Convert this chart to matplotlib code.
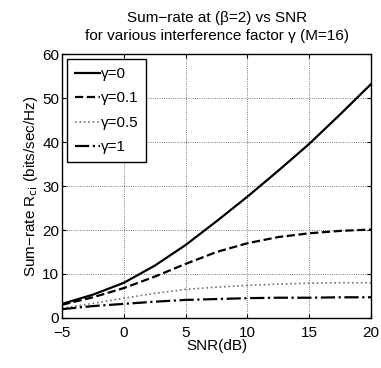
import matplotlib
matplotlib.use('Agg')
import matplotlib.pyplot as plt

plt.rcParams['font.family'] = ['Liberation Sans', 'DejaVu Sans']

# SNR in dB
snr = [-5, -2.5, 0, 2.5, 5, 7.5, 10, 12.5, 15, 17.5, 20]

# sum-rate for each interference factor
rate_g0 = [3.2, 5.3, 8.0, 11.9, 16.6, 22.0, 27.6, 33.5, 39.6, 46.3, 53.2]
rate_g01 = [3.0, 4.7, 6.8, 9.4, 12.3, 15.0, 17.0, 18.4, 19.25, 19.8, 20.1]
rate_g05 = [2.2, 3.3, 4.5, 5.6, 6.5, 7.0, 7.4, 7.7, 7.9, 8.0, 8.0]
rate_g1 = [2.0, 2.7, 3.2, 3.7, 4.1, 4.3, 4.5, 4.6, 4.6, 4.7, 4.7]

labels = ['γ=0', 'γ=0.1', 'γ=0.5', 'γ=1']

fig = plt.figure(figsize=(3.81, 3.68), dpi=100)
ax = fig.add_axes([0.163, 0.136, 0.811, 0.717])

ax.plot(snr, rate_g0, 'k-', lw=1.6, label=labels[0])
ax.plot(snr, rate_g01, 'k--', lw=1.6, label=labels[1])
ax.plot(snr, rate_g05, ':', lw=1.2, color='0.45', label=labels[2])
ax.plot(snr, rate_g1, 'k-.', lw=1.6, label=labels[3])

ax.set_xlim(-5, 20)
ax.set_ylim(0, 60)
ax.set_xticks([-5, 0, 5, 10, 15, 20])
ax.set_xticklabels(['−5', '0', '5', '10', '15', '20'])
ax.set_yticks([0, 10, 20, 30, 40, 50, 60])
ax.tick_params(direction='in', labelsize=11, length=3, top=True, right=True, pad=2)
ax.tick_params(axis='x', pad=6)
ax.grid(True, linestyle=':', color='k', lw=0.6, alpha=0.7)
for s in ax.spines.values():
    s.set_linewidth(1.0)

ax.set_xlabel('SNR(dB)', fontsize=11, labelpad=-1)
ax.set_ylabel('Sum−rate R$_{\\rm ci}$ (bits/sec/Hz)', fontsize=11, labelpad=2)
ax.set_title('Sum−rate at (β=2) vs SNR\nfor various interference factor γ (M=16)',
             fontsize=11, pad=10, linespacing=1.35)

leg = ax.legend(loc='upper left', fontsize=11, handlelength=1.6, handletextpad=0.1,
                borderaxespad=0.35, fancybox=False, edgecolor='k', framealpha=1,
                labelspacing=0.68, borderpad=0.5)
leg.get_frame().set_linewidth(1.0)

fig.savefig('out.png', dpi=100)
